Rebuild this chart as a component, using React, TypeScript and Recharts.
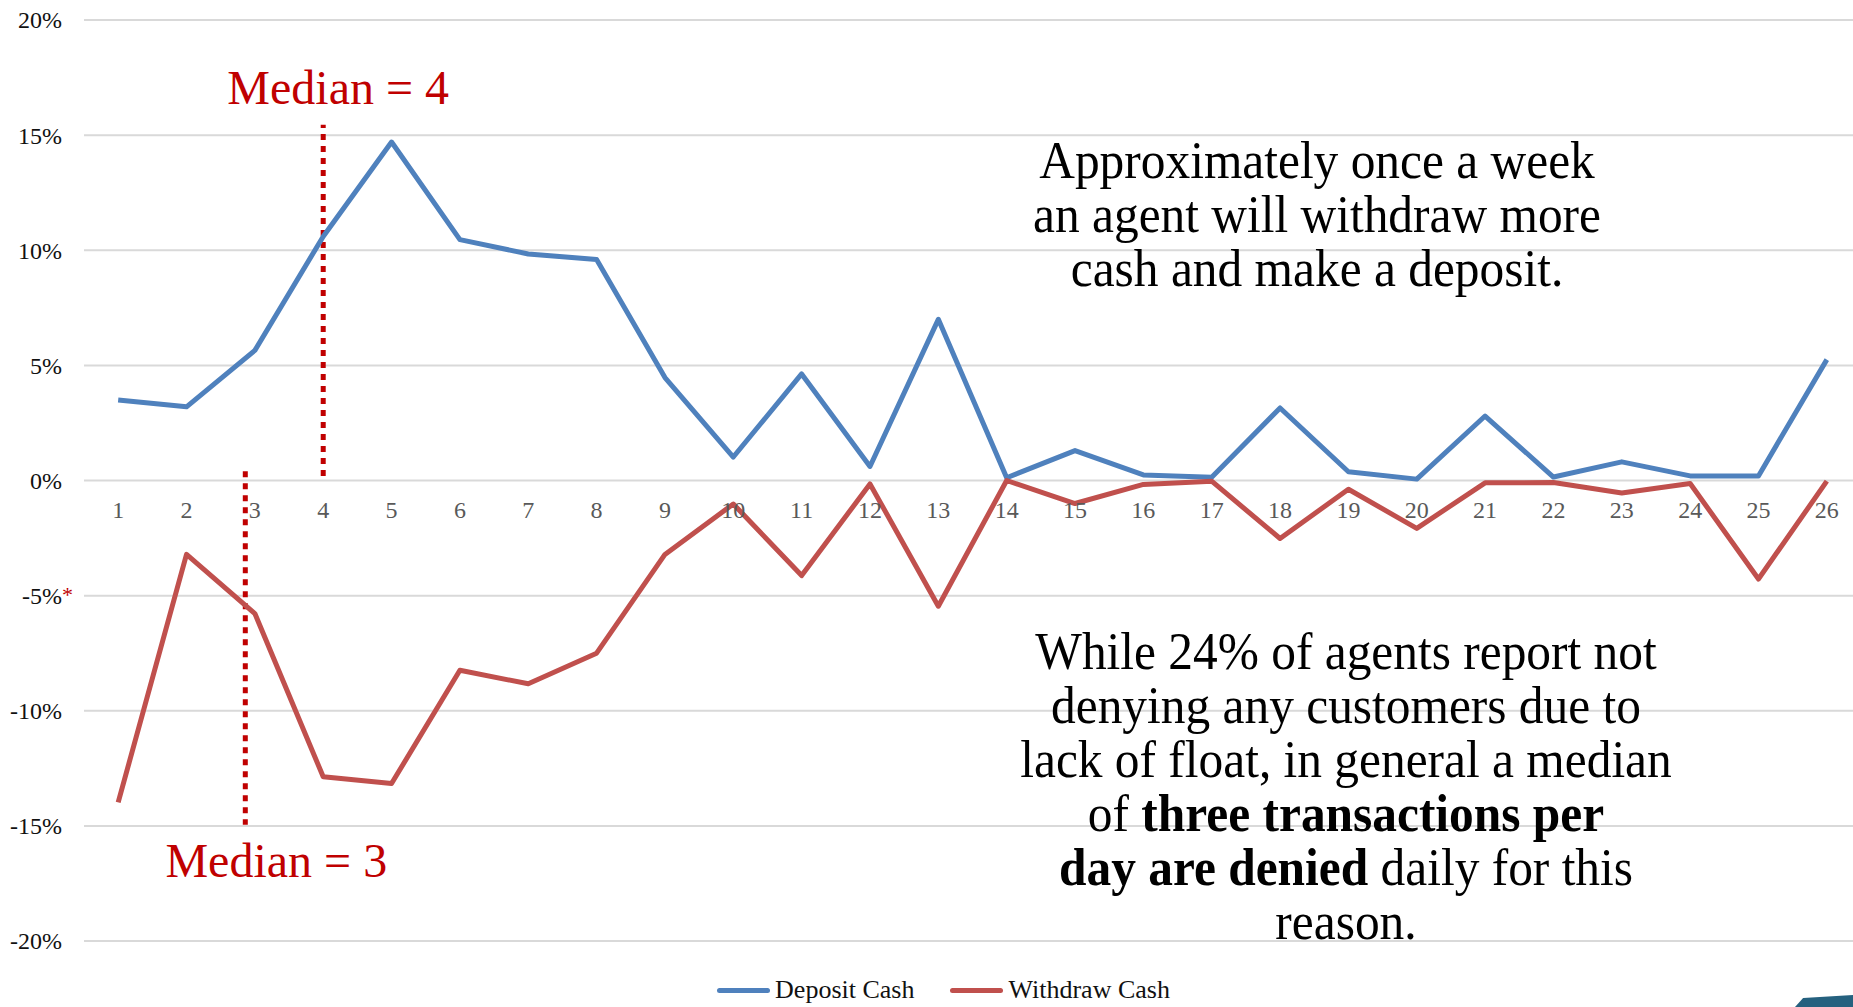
import React from 'react'
import { LineChart, Line, XAxis, YAxis, CartesianGrid, ReferenceLine, ReferenceDot, Legend } from 'recharts'

// values in percent
const days = [1, 2, 3, 4, 5, 6, 7, 8, 9, 10, 11, 12, 13, 14, 15, 16, 17, 18, 19, 20, 21, 22, 23, 24, 25, 26]
const depositCash = [3.5, 3.2, 5.65, 10.6, 14.7, 10.46, 9.84, 9.6, 4.47, 1.02, 4.63, 0.61, 7.0, 0.12, 1.3, 0.24, 0.14, 3.15, 0.38, 0.06, 2.8, 0.15, 0.81, 0.2, 0.2, 5.25]
const withdrawCash = [-13.98, -3.21, -5.78, -12.87, -13.16, -8.24, -8.83, -7.5, -3.21, -1.02, -4.13, -0.15, -5.46, 0, -1.0, -0.17, -0.03, -2.52, -0.38, -2.08, -0.1, -0.09, -0.54, -0.13, -4.28, -0.03]
const yTicks = [-20, -15, -10, -5, 0, 5, 10, 15, 20]

// dotted median markers (x in day units, y in percent)
const depositMedian = { label: 'Median = 4', day: 4, from: 0.2, to: 15.45 }
const withdrawMedian = { label: 'Median = 3', day: 2.86, from: 0.4, to: -14.95 }

const topNote = ['Approximately once a week', 'an agent will withdraw more', 'cash and make a deposit.']

const SERIF = '"Liberation Serif", "Times New Roman", serif'
const BLUE = '#4F81BD'
const RED = '#C0504D'
const DARK_RED = '#C00000'

const data = days.map((day, i) => ({ day, deposit: depositCash[i], withdraw: withdrawCash[i] }))

function YTick({ x, y, payload }: any) {
  const v = payload.value
  return (
    <g>
      <text x={x} y={y} dy="0.35em" textAnchor="end" fill="#111" fontSize={24} fontFamily={SERIF}>
        {`${v}%`}
      </text>
      {/* footnote mark on -5% */}
      {v === -5 && (
        <text x={x} y={y} dy="0.3em" fill={DARK_RED} fontSize={22} fontFamily={SERIF}>*</text>
      )}
    </g>
  )
}

function MedianLabel({ viewBox, text, below, shift }: any) {
  const cx = viewBox.x + shift
  const y = below ? viewBox.y + viewBox.height + 52 : viewBox.y - 21
  return (
    <text x={cx} y={y} textAnchor="middle" fill={DARK_RED} fontSize={48} fontFamily={SERIF}>
      {text}
    </text>
  )
}

function LegendContent({ payload }: any) {
  return (
    <div style={{ display: 'flex', justifyContent: 'center', alignItems: 'center', height: 30, fontFamily: SERIF, fontSize: 26, color: '#111' }}>
      {(payload || []).map((p: any, i: number) => (
        <div key={p.value} style={{ display: 'flex', alignItems: 'center', marginLeft: i ? 36 : 0 }}>
          <span style={{ display: 'inline-block', width: 53, height: 5, borderRadius: 3, background: p.color, marginRight: 5 }} />
          <span>{p.value}</span>
        </div>
      ))}
    </div>
  )
}

export default function App() {
  return (
    <div style={{ position: 'fixed', left: 0, top: 0, width: 1853, height: 1007, overflow: 'hidden', background: '#fff' }}>
      <LineChart width={1870} height={1007} data={data} margin={{ top: 20, right: 9, left: 0, bottom: 36 }}>
        <CartesianGrid vertical={false} stroke="#D9D9D9" strokeWidth={2} />
        <XAxis type="number" dataKey="day" domain={[0.5, 26.5]} hide />
        <YAxis
          domain={[-20, 20]}
          ticks={yTicks}
          interval={0}
          width={84}
          axisLine={false}
          tickLine={false}
          tickSize={0}
          tickMargin={22}
          tick={<YTick />}
        />
        {/* category labels sit on the zero line */}
        {days.map((d) => (
          <ReferenceDot
            key={d}
            x={d}
            y={0}
            r={0}
            fill="none"
            stroke="none"
            label={{ value: String(d), position: 'bottom', offset: 20, fill: '#595959', fontSize: 24, fontFamily: SERIF }}
          />
        ))}
        <ReferenceLine
          segment={[{ x: depositMedian.day, y: depositMedian.from }, { x: depositMedian.day, y: depositMedian.to }]}
          stroke={DARK_RED}
          strokeWidth={5}
          strokeDasharray="6 6"
          label={<MedianLabel text={depositMedian.label} shift={15} />}
        />
        <ReferenceLine
          segment={[{ x: withdrawMedian.day, y: withdrawMedian.from }, { x: withdrawMedian.day, y: withdrawMedian.to }]}
          stroke={DARK_RED}
          strokeWidth={5}
          strokeDasharray="6 6"
          label={<MedianLabel text={withdrawMedian.label} shift={31} below />}
        />
        <Line
          type="linear"
          dataKey="deposit"
          name="Deposit Cash"
          stroke={BLUE}
          strokeWidth={5}
          strokeLinejoin="round"
          dot={false}
          isAnimationActive={false}
        />
        <Line
          type="linear"
          dataKey="withdraw"
          name="Withdraw Cash"
          stroke={RED}
          strokeWidth={5}
          strokeLinejoin="round"
          dot={false}
          isAnimationActive={false}
        />
        <Legend verticalAlign="bottom" content={<LegendContent />} wrapperStyle={{ left: 0, width: 1887, top: 975 }} />
      </LineChart>

      <div
        style={{
          position: 'absolute', left: 917, top: 134, width: 800, textAlign: 'center',
          fontFamily: SERIF, fontSize: 52, lineHeight: '54px', color: '#000', transform: 'scaleX(0.95)',
        }}
      >
        {topNote.map((t) => (
          <div key={t}>{t}</div>
        ))}
      </div>

      <div
        style={{
          position: 'absolute', left: 946, top: 625, width: 800, textAlign: 'center',
          fontFamily: SERIF, fontSize: 52, lineHeight: '54px', color: '#000', transform: 'scaleX(0.95)',
        }}
      >
        <div>While 24% of agents report not</div>
        <div>denying any customers due to</div>
        <div>lack of float, in general a median</div>
        <div>of <b>three transactions per</b></div>
        <div><b>day are denied</b> daily for this</div>
        <div>reason.</div>
      </div>

      {/* slide corner decoration */}
      <div
        style={{
          position: 'absolute', left: 1795, top: 995, width: 58, height: 12, background: '#25617F',
          clipPath: 'polygon(0 100%, 14% 25%, 100% 0, 100% 100%)',
        }}
      />
    </div>
  )
}
